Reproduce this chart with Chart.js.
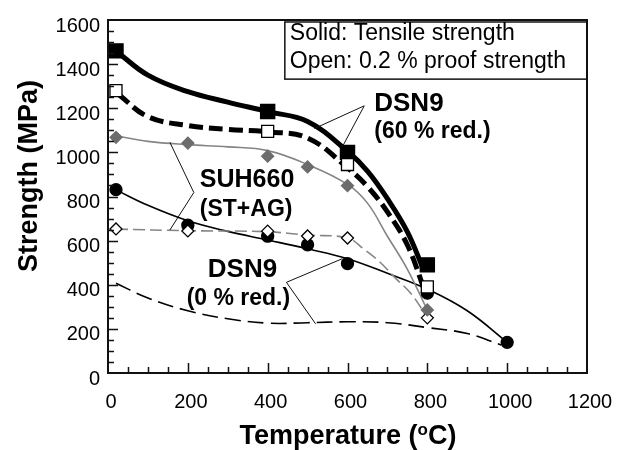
<!DOCTYPE html>
<html>
<head>
<meta charset="utf-8">
<script src="https://cdn.jsdelivr.net/npm/chart.js@4.4.1/dist/chart.umd.min.js"></script>
<style>
  html, body { margin: 0; padding: 0; background: #fff; }
  #wrap { width: 629px; height: 450px; }
</style>
</head>
<body>
<div id="wrap"><canvas id="strengthChart" width="629" height="450"></canvas></div>
<script>
// measured points (markers)
const temps60 = [20, 400, 600, 800];
const dsn60Tensile = [1460, 1185, 1000, 490];
const dsn60Proof = [1280, 1095, 945, 390];

const tempsSuh = [20, 200, 400, 500, 600, 800];
const suhTensile = [1068, 1042, 983, 934, 849, 286];
const suhProof = [653, 644, 643, 621, 612, 250];

const tempsDsn0 = [20, 200, 400, 500, 600, 800, 1000];
const dsn0Tensile = [831, 670, 620, 581, 496, 362, 139];

// fitted curves
const fit60TensileT = [20, 100, 200, 300, 400, 500, 600, 650, 700, 750, 790];
const fit60Tensile = [1460, 1350, 1275, 1228, 1185, 1140, 1005, 915, 790, 640, 470];
const fit60ProofT = [25, 100, 200, 300, 400, 500, 600, 650, 700, 750, 795];
const fit60Proof = [1265, 1162, 1122, 1104, 1093, 1065, 930, 845, 730, 580, 365];
const fitSuhTensileT = [20, 100, 200, 300, 400, 500, 600, 650, 700, 750, 800];
const fitSuhTensile = [1075, 1050, 1035, 1025, 1008, 945, 855, 770, 620, 470, 285];
const fitSuhProofT = [20, 200, 400, 500, 600, 640, 680, 720, 760, 800];
const fitSuhProof = [652, 645, 640, 625, 612, 563, 505, 430, 358, 250];
const fit0TensileT = [20, 100, 200, 300, 400, 500, 600, 700, 800, 900, 1000];
const fit0Tensile = [830, 760, 690, 642, 603, 563, 518, 452, 380, 282, 139];
const fit0ProofT = [20, 100, 200, 300, 400, 500, 600, 700, 800, 900, 985];
const fit0Proof = [407, 340, 282, 246, 226, 228, 232, 228, 206, 179, 127];

const xTicks = [0, 200, 400, 600, 800, 1000, 1200];
const yTicks = [0, 200, 400, 600, 800, 1000, 1200, 1400, 1600];

const FONT = "'Liberation Sans', Arial, Helvetica, sans-serif";
const GRAY_LINE = '#858585';
const GRAY_FILL = '#6c6c6c';

// tick labels in the picture use a narrow face
function hasFont(name) {
    const c = document.createElement('canvas').getContext('2d');
    c.font = '24px monospace';
    const w0 = c.measureText('1600 abc').width;
    c.font = "24px '" + name + "', monospace";
    return c.measureText('1600 abc').width !== w0;
}
const narrow = hasFont('Liberation Sans Narrow');
const TICK_FONT = narrow ? { family: "'Liberation Sans Narrow', sans-serif", size: 24 }
                         : { family: FONT, size: 20 };

function pts(xs, ys) {
    return xs.map((x, i) => ({ x: x, y: ys[i] }));
}

function curve(xs, ys, color, width, dash) {
    return {
        data: pts(xs, ys),
        borderColor: color,
        borderWidth: width,
        borderDash: dash || [],
        pointRadius: 0,
        tension: 0.4,
        fill: false,
        order: 10
    };
}

function markers(xs, ys, style, radius, fill, stroke, order) {
    return {
        data: pts(xs, ys),
        showLine: false,
        pointStyle: style,
        pointRadius: radius,
        pointBackgroundColor: fill,
        pointBorderColor: stroke,
        pointBorderWidth: 1.3,
        order: order
    };
}

// labels with leader lines, in data units
const notes = [
    { lines: ['DSN9', '(60 % red.)'], x: 667, y: [1220, 1093], size: [26, 23],
      leader: [[642, 1211], [[517, 1108], [587, 1025]]] },
    { lines: ['SUH660', '(ST+AG)'], x: 230, y: [876, 742], size: [25, 23],
      leader: [[215, 818], [[155, 1046], [155, 648]]] },
    { lines: ['DSN9', '(0 % red.)'], x: 250, y: [469, 335], size: [26, 23], alignSecond: 197,
      leader: [[447, 411], [[587, 518], [520, 223]]] }
];

const decorPlugin = {
    id: 'decor',
    afterDraw(chart) {
        const ctx = chart.ctx;
        const xs = chart.scales.x, ys = chart.scales.y;
        const a = chart.chartArea;
        ctx.save();

        // inward ticks
        ctx.strokeStyle = '#111';
        ctx.lineWidth = 1.5;
        ctx.beginPath();
        for (let v = 50; v < 1600; v += 50) {
            const py = Math.round(ys.getPixelForValue(v)) + 0.5;
            const len = v % 200 === 0 ? 10 : 6;
            ctx.moveTo(a.left, py);
            ctx.lineTo(a.left + len, py);
        }
        for (let v = 50; v < 1200; v += 50) {
            const px = Math.round(xs.getPixelForValue(v)) + 0.5;
            const len = v % 200 === 0 ? 10 : 6;
            ctx.moveTo(px, a.bottom);
            ctx.lineTo(px, a.bottom - len);
        }
        ctx.stroke();

        // frame
        ctx.lineWidth = 2;
        ctx.strokeStyle = '#111';
        ctx.strokeRect(a.left, a.top, a.right - a.left, a.bottom - a.top);

        // legend box
        const bx = xs.getPixelForValue(443);
        const by = ys.getPixelForValue(1591);
        const bb = ys.getPixelForValue(1332);
        ctx.lineWidth = 1.5;
        ctx.strokeRect(bx, by, a.right - bx, bb - by);
        ctx.fillStyle = '#000';
        ctx.font = '23px ' + FONT;
        ctx.textAlign = 'left';
        ctx.textBaseline = 'middle';
        ctx.fillText('Solid: Tensile strength', bx + 5, ys.getPixelForValue(1540));
        ctx.fillText('Open: 0.2 % proof strength', bx + 5, ys.getPixelForValue(1410));

        // material labels and leaders
        notes.forEach(n => {
            ctx.font = 'bold ' + n.size[0] + 'px ' + FONT;
            ctx.fillText(n.lines[0], xs.getPixelForValue(n.x), ys.getPixelForValue(n.y[0]));
            ctx.font = 'bold ' + n.size[1] + 'px ' + FONT;
            const x2 = n.alignSecond !== undefined ? n.alignSecond : n.x;
            ctx.fillText(n.lines[1], xs.getPixelForValue(x2), ys.getPixelForValue(n.y[1]));
            ctx.lineWidth = 1;
            ctx.beginPath();
            const sx = xs.getPixelForValue(n.leader[0][0]);
            const sy = ys.getPixelForValue(n.leader[0][1]);
            n.leader[1].forEach(p => {
                ctx.moveTo(sx, sy);
                ctx.lineTo(xs.getPixelForValue(p[0]), ys.getPixelForValue(p[1]));
            });
            ctx.stroke();
        });

        // axis titles
        ctx.font = 'bold 27px ' + FONT;
        ctx.textBaseline = 'alphabetic';
        ctx.save();
        ctx.translate(37, 176);
        ctx.rotate(-Math.PI / 2);
        ctx.textAlign = 'center';
        ctx.fillText('Strength (MPa)', 0, 0);
        ctx.restore();

        const t1 = 'Temperature (', t2 = 'C)';
        const w1 = ctx.measureText(t1).width;
        const w3 = ctx.measureText(t2).width;
        ctx.font = 'bold 17px ' + FONT;
        const w2 = ctx.measureText('o').width;
        const cx = 348;
        let tx = cx - (w1 + w2 + w3) / 2;
        const base = 444;
        ctx.textAlign = 'left';
        ctx.font = 'bold 27px ' + FONT;
        ctx.fillText(t1, tx, base);
        ctx.font = 'bold 17px ' + FONT;
        ctx.fillText('o', tx + w1, base - 9);
        ctx.font = 'bold 27px ' + FONT;
        ctx.fillText(t2, tx + w1 + w2, base);

        ctx.restore();
    }
};

const ctx = document.getElementById('strengthChart');
new Chart(ctx, {
    type: 'line',
    data: {
        datasets: [
            curve(fit60TensileT, fit60Tensile, '#000', 5),
            curve(fit60ProofT, fit60Proof, '#000', 5, [14, 6]),
            curve(fitSuhTensileT, fitSuhTensile, GRAY_LINE, 1.6),
            curve(fitSuhProofT, fitSuhProof, GRAY_LINE, 1.6, [12, 5]),
            curve(fit0TensileT, fit0Tensile, '#000', 1.6),
            curve(fit0ProofT, fit0Proof, '#000', 1.6, [16, 7]),
            markers(tempsDsn0, dsn0Tensile, 'circle', 6, '#000', '#000', 6),
            markers(tempsSuh, suhProof, 'rectRot', 6, '#fff', '#000', 5),
            markers(tempsSuh, suhTensile, 'rectRot', 6, GRAY_FILL, GRAY_FILL, 4),
            markers(temps60, dsn60Tensile, 'rect', 10, '#000', '#000', 3),
            markers(temps60, dsn60Proof, 'rect', 8.5, '#fff', '#000', 2)
        ]
    },
    options: {
        responsive: false,
        animation: false,
        devicePixelRatio: 1,
        layout: { padding: { top: 15, right: 42, left: 0, bottom: 0 } },
        scales: {
            x: {
                type: 'linear',
                min: 0,
                max: 1200,
                afterFit: s => { s.height = 77; },
                afterBuildTicks: s => { s.ticks = xTicks.map(v => ({ value: v })); },
                grid: { display: false, drawTicks: false },
                border: { display: false },
                ticks: {
                    color: '#000',
                    padding: narrow ? 15 : 17,
                    labelOffset: 3,
                    maxRotation: 0,
                    font: TICK_FONT,
                    callback: v => String(v)
                }
            },
            y: {
                min: 0,
                max: 1600,
                afterFit: s => { s.width = 108; },
                afterBuildTicks: s => { s.ticks = yTicks.map(v => ({ value: v })); },
                grid: { display: false, drawTicks: false },
                border: { display: false },
                ticks: {
                    color: '#000',
                    padding: 8,
                    labelOffset: 6,
                    font: TICK_FONT,
                    callback: v => String(v)
                }
            }
        },
        plugins: {
            legend: { display: false },
            tooltip: { enabled: false }
        }
    },
    plugins: [decorPlugin]
});
</script>
</body>
</html>
